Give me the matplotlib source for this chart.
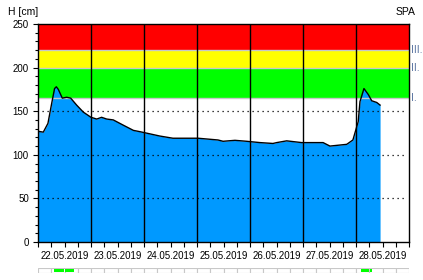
import matplotlib
matplotlib.use("Agg")
import matplotlib.pyplot as plt
from matplotlib.patches import Rectangle

plt.rcParams["font.family"] = ["Liberation Sans", "DejaVu Sans"]

# ---- data ----
hours = [0, 2.4, 4.5, 6.2, 7.5, 8.3, 9.2, 11.0, 13.0, 14.8, 17.5, 20.5, 24.0, 26.6, 28.8,
         31.1, 34.1, 38.6, 43.2, 46.2, 50.7, 55.2, 61.1, 72.5, 81.5, 83.8, 89.2,
         94.5, 100.5, 106.4, 108.1, 112.6, 119.4, 129.1, 132.2, 139.8, 142.6, 145.0,
         145.8, 147.6, 149.6, 151.1, 153.4, 154.9]
level = [127, 126, 136, 159, 176, 178, 175, 165, 166, 165, 157, 149, 143, 141, 143,
         141, 140, 134, 128, 126.5, 124, 121.5, 119, 119, 117, 115.5, 116.6,
         115.5, 114, 113, 114, 116, 114, 114, 110, 112, 117, 138,
         161, 176, 169, 162, 160, 157]
day_labels = ["22.05.2019", "23.05.2019", "24.05.2019", "25.05.2019",
              "26.05.2019", "27.05.2019", "28.05.2019"]
band_levels = [165, 200, 220, 250]
band_colors = ["#00ff00", "#ffff00", "#ff0000"]
band_names = ["I.", "II.", "III."]
exceed_intervals = [(7.2, 16.3), (146.3, 151.3)]

W, H = 423, 280
fig = plt.figure(figsize=(W / 100, H / 100), dpi=100)
L, R, T, B = 38, 409, 24, 242
ax = fig.add_axes([L / W, 1 - B / H, (R - L) / W, (B - T) / H])
ndays = len(day_labels)
ax.set_xlim(0, 24 * ndays)
ax.set_ylim(0, 250)

# bands
for i, c in enumerate(band_colors):
    ax.axhspan(band_levels[i], band_levels[i + 1], color=c, lw=0, zorder=0)

ax.fill_between(hours, level, 0, color="#0099ff", lw=0, zorder=1)
ax.plot(hours, level, color="black", lw=1.0, zorder=4)

for lv in band_levels[:3]:
    ax.axhline(lv, color="#c8c8c8", lw=1.0, zorder=3)
for lv in [50, 100, 150]:
    ax.plot([2, 24 * ndays - 2], [lv, lv], color="black", lw=0.9,
            linestyle=(0, (1, 3)), zorder=2)
for d in range(1, ndays):
    ax.axvline(24 * d, color="black", lw=1.0, zorder=3)

for spine in ax.spines.values():
    spine.set_linewidth(1.0)
    spine.set_zorder(5)

ax.set_yticks(range(0, 251, 50))
ax.set_yticks(range(0, 251, 10), minor=True)
ax.set_xticks([6 * i for i in range(4 * ndays + 1)], minor=True)
ax.set_xticks([24 * d for d in range(ndays + 1)] + [24 * d + 12 for d in range(ndays)])
ax.set_xticklabels([""] * (ndays + 1) + day_labels)
ax.tick_params(axis="y", which="major", length=3.6, width=0.8, direction="out",
               labelsize=7, pad=3, colors="black")
ax.tick_params(axis="y", which="minor", length=2.4, width=0.8, direction="out")
ax.tick_params(axis="x", which="both", length=3.6, width=0.8, direction="out",
               labelsize=7, pad=3)

for lv, nm in zip(band_levels[:3], band_names):
    ax.text(1.006, lv, nm, transform=ax.get_yaxis_transform(), va="center",
            ha="left", fontsize=7.5, color="#5a74a0")

fig.text(8 / W, 1 - 12 / H, "H [cm]", fontsize=7.5, va="center", ha="left")
fig.text(415 / W, 1 - 12 / H, "SPA", fontsize=7.5, va="center", ha="right")

# bottom strip
sax = fig.add_axes([L / W, 1 - 272.5 / H, (R - L) / W, 4.5 / H])
sax.set_xlim(0, 24 * ndays)
sax.set_ylim(0, 1)
sax.axis("off")
for i in range(4 * ndays):
    x0 = 6 * i
    sax.add_patch(Rectangle((x0, 0), 6, 1, facecolor="white",
                            edgecolor="#c8c8c8", lw=0.8))
    for a, b in exceed_intervals:
        lo, hi = max(a, x0 + 0.3), min(b, x0 + 5.7)
        if hi > lo:
            sax.add_patch(Rectangle((lo, 0.2), hi - lo, 0.6,
                                    facecolor="#00ff00", lw=0))

fig.savefig("out.png", dpi=100)
